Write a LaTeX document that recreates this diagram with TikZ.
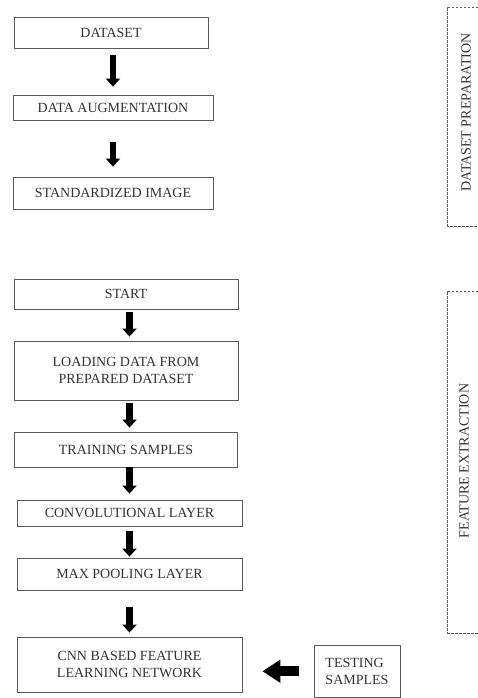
\documentclass[tikz,border=0pt]{standalone}
\usepackage{fontspec}
\setmainfont{Liberation Serif}
\usepackage{xcolor}
\usepackage{tikz}
\usetikzlibrary{arrows.meta}
\definecolor{boxgray}{HTML}{5A5A5A}
\definecolor{txtgray}{HTML}{333333}

\begin{document}
\begin{tikzpicture}[x=1pt, y=1pt,
  every node/.style={font=\fontsize{14}{17}\selectfont, text=txtgray},
  stage/.style={draw=boxgray, line width=0.8pt, inner sep=0pt, align=center},
  blk/.style={-{Triangle[width=14pt,length=8pt]}, line width=6.5pt, black},
  bigblk/.style={-{Triangle[width=22pt,length=18pt]}, line width=10pt, black},
  part/.style={draw=boxgray, line width=0.6pt, dash pattern=on 2.5pt off 1.5pt}]
\useasboundingbox (0,0) rectangle (478,698);

% Dataset preparation
\node [stage, minimum width=194pt, minimum height=31pt] (data) at (111,665.5) {DATASET};
\node [stage, below of=data, node distance=75pt, xshift=2pt, minimum width=200pt, minimum height=25pt] (aug) {DATA AUGMENTATION};
\node [stage, below of=aug, node distance=85.5pt, minimum width=200pt, minimum height=32pt] (std) {STANDARDIZED IMAGE};
\draw [blk, shorten <=7pt, shorten >=8pt] (data.south -| aug) -- (aug.north);
\draw [blk, shorten <=22pt, shorten >=10pt] (aug.south) -- (std.north);
\draw [part] (478,691) -| (447.5,472) -- (478,472);
\node [rotate=90] (prep) at (466,585.5) {DATASET PREPARATION};

% Feature extraction
\node [stage, below of=std, node distance=101pt, xshift=13pt, minimum width=224pt, minimum height=30pt] (start) {START};
\node [stage, below of=start, node distance=76.5pt, minimum width=224pt, minimum height=59pt] (load) {LOADING DATA FROM\\PREPARED DATASET};
\node [stage, below of=load, node distance=79pt, minimum width=223pt, minimum height=35pt] (train) {TRAINING SAMPLES};
\node [stage, below of=train, node distance=63.5pt, xshift=3.5pt, minimum width=225pt, minimum height=26pt] (conv) {CONVOLUTIONAL LAYER};
\node [stage, below of=conv, node distance=61pt, minimum width=225pt, minimum height=32pt] (pool) {MAX POOLING LAYER};
\node [stage, below of=pool, node distance=90.5pt, minimum width=225pt, minimum height=55pt] (cnn) {CNN BASED FEATURE\\LEARNING NETWORK};
\node [stage, right of=cnn, node distance=227.5pt, yshift=-6.75pt, minimum width=86pt, minimum height=52.5pt, align=left] (test) {TESTING\\SAMPLES};
\draw [blk, shorten <=3pt, shorten >=4pt] (start.south -| conv) -- (load.north -| conv);
\draw [blk, shorten <=3pt, shorten >=4pt] (load.south -| conv) -- (train.north -| conv);
\draw [blk, shorten >=6pt] (train.south -| conv) -- (conv.north);
\draw [blk, shorten <=5pt, shorten >=1pt] (conv.south) -- (pool.north);
\draw [blk, shorten <=17pt, shorten >=4pt] (pool.south) -- (cnn.north);
\draw [bigblk, shorten <=15pt, shorten >=20pt] (test.west) -- (test.west -| cnn.east);
\draw [part] (478,407) -| (447.5,65) -- (478,65);
\node [rotate=90] (feat) at (464,237) {FEATURE EXTRACTION};
\end{tikzpicture}
\end{document}
